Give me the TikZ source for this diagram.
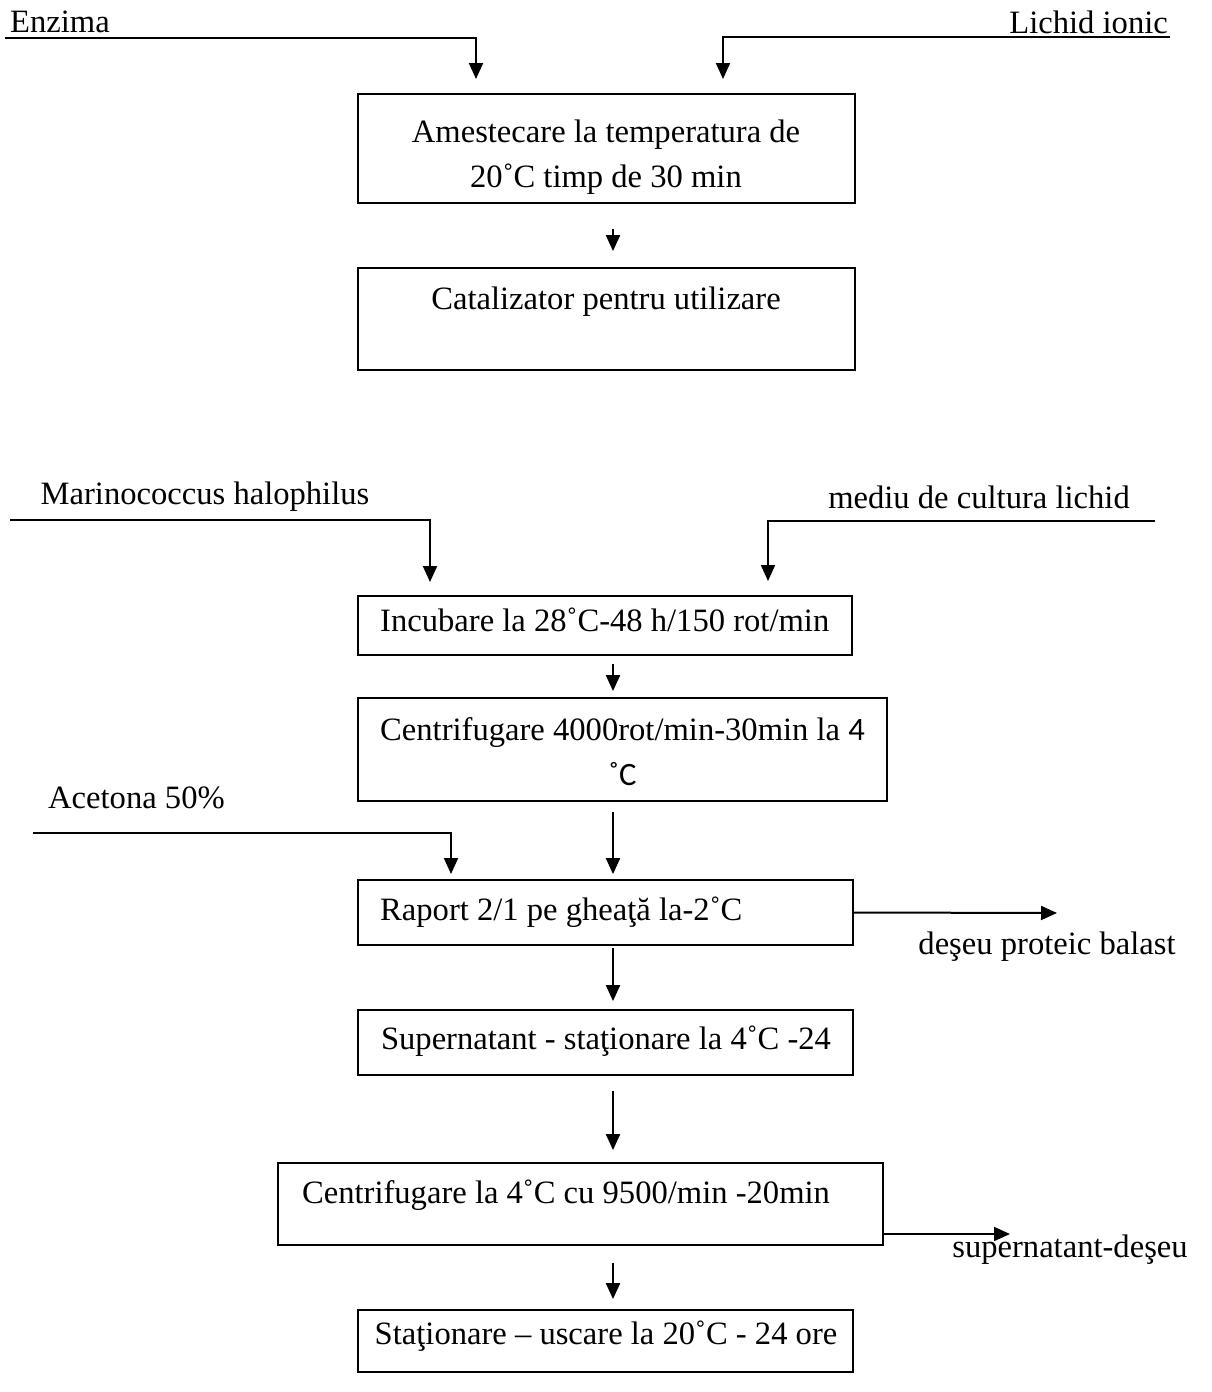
\documentclass[tikz,border=0pt]{standalone}
\usepackage{fontspec}
\setmainfont{Liberation Serif}
\newfontfamily\carlito{Carlito}
\usetikzlibrary{arrows.meta,calc}

\begin{document}
\begin{tikzpicture}[x=1pt, y=-1pt, >={Triangle[length=16pt,width=14pt]}, line join=miter,
    box/.style={draw, line width=1.8pt, inner sep=0pt},
    lbl/.style={inner sep=0pt, align=center, font=\fontsize{32.6}{45}\selectfont},
    flow/.style={->, line width=2pt}]
  \useasboundingbox (0,0) rectangle (1212,1392);
  \coordinate (col) at (613,0);
  % boxes
  \node[box, minimum width=497pt, minimum height=109pt] (mix) at (606.5,148.5) {};
  \node[box, minimum width=497pt, minimum height=102pt] (cat) at (606.5,319.0) {};
  \node[box, minimum width=494pt, minimum height=59pt] (inc) at (605.0,625.5) {};
  \node[box, minimum width=529pt, minimum height=103pt] (cenA) at (622.5,749.5) {};
  \node[box, minimum width=495pt, minimum height=65pt] (rap) at (605.5,912.5) {};
  \node[box, minimum width=495pt, minimum height=65pt] (sup) at (605.5,1042.5) {};
  \node[box, minimum width=605pt, minimum height=82pt] (cenB) at (580.5,1204.0) {};
  \node[box, minimum width=495pt, minimum height=62pt] (sta) at (605.5,1341.0) {};
  % texts in boxes
  \node[lbl] (tmix) at (606,157.5) {Amestecare la temperatura de\\20˚C timp de 30 min};
  \node[lbl] (tcat) at (606,302) {Catalizator pentru utilizare};
  \node[lbl, anchor=west] (tinc) at (380,620) {Incubare la 28˚C-48 h/150 rot/min};
  \node[lbl] (tcenA) at (622.5,752) {Centrifugare 4000rot/min-30min la {\carlito 4}\\{\carlito ˚C}};
  \node[lbl, anchor=west] (trap) at (380,912) {Raport 2/1 pe gheaţă la-2˚C};
  \node[lbl] (tsup) at (606,1041) {Supernatant - staţionare la 4˚C -24};
  \node[lbl] (tcenB) at (566,1195) {Centrifugare la 4˚C cu 9500/min -20min};
  \node[lbl] (tsta) at (606,1336) {Staţionare – uscare la 20˚C - 24 ore};
  % feeds
  \node[lbl, anchor=west] (enz) at (10,22) {Enzima};
  \node[lbl, anchor=east] (ion) at (1168,22) {Lichid ionic};
  \node[lbl] (mar) at (205,497) {Marinococcus halophilus};
  \node[lbl] (med) at (979,497) {mediu de cultura lichid};
  \node[lbl, anchor=west] (ace) at (48,798) {Acetona 50\%};
  \node[lbl] (des) at (1047,947) {deşeu proteic balast};
  \node[lbl] (sdes) at (1070,1250) {supernatant-deşeu};
  \coordinate (enz0) at (5,38);     \coordinate (enz1) at (476,79);
  \coordinate (ion0) at (1170,37);  \coordinate (ion1) at (723,79);
  \coordinate (mar0) at (10,520);   \coordinate (mar1) at (430,582);
  \coordinate (med0) at (1155,521); \coordinate (med1) at (768,581);
  \coordinate (ace0) at (33,833);   \coordinate (ace1) at (451,874);
  \coordinate (wA) at (1057,913);
  \coordinate (wB) at (1010,1234);
  \draw[flow] (enz0) -| (enz1);
  \draw[flow] (ion0) -| (ion1);
  \draw[flow] (mar0) -| (mar1);
  \draw[flow] (med0) -| (med1);
  \draw[flow] (ace0) -| (ace1);
  % main line
  \draw[flow] ($(mix.south -| col)+(0,25)$) -- ($(cat.north -| col)+(0,-16)$);
  \draw[flow] ($(inc.south -| col)+(0,8)$) -- ($(cenA.north -| col)+(0,-6)$);
  \draw[flow] ($(cenA.south -| col)+(0,10)$) -- ($(rap.north -| col)+(0,-5)$);
  \draw[flow] ($(rap.south -| col)+(0,2)$) -- ($(sup.north -| col)+(0,-8)$);
  \draw[flow] ($(sup.south -| col)+(0,15)$) -- ($(cenB.north -| col)+(0,-12)$);
  \draw[flow] ($(cenB.south -| col)+(0,17)$) -- ($(sta.north -| col)+(0,-10)$);
  % waste
  \draw[flow] (rap.east) -- (wA);
  \draw[flow] ([yshift=-30pt]cenB.east) -- (wB);
\end{tikzpicture}
\end{document}
